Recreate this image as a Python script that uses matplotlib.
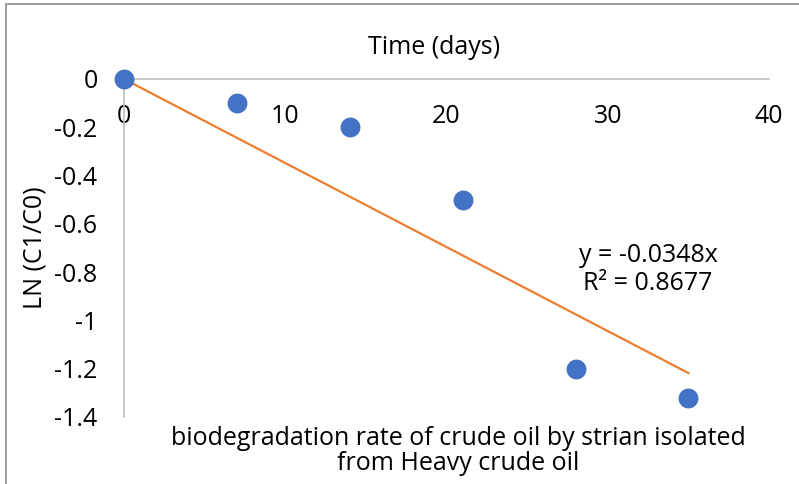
import numpy as np
import matplotlib
matplotlib.use("Agg")
import matplotlib.pyplot as plt
from matplotlib.patches import Rectangle

plt.rcParams["font.family"] = ["Open Sans", "DejaVu Sans"]

# sampling days and ln(C1/C0)
days = [0, 7, 14, 21, 28, 35]
ln_ratio = [0, -0.1, -0.2, -0.5, -1.2, -1.32]
slope = -0.0348
r2 = 0.8677

x_ticks = [0, 10, 20, 30, 40]
y_ticks = [0, -0.2, -0.4, -0.6, -0.8, -1, -1.2, -1.4]

FS = 18
W, H = 799, 484
fig = plt.figure(figsize=(W / 100, H / 100), dpi=100)
ax = fig.add_axes([124 / W, 1 - 417 / H, (769 - 124) / W, (417 - 79) / H])

# outer chart frame
fig.patches.append(Rectangle((6 / W, -0.1), 1.2, 0.1 + 1 - 4 / H, transform=fig.transFigure,
                             fill=False, edgecolor="#8c8c8c", linewidth=1.2))

ax.scatter(days, ln_ratio, s=205, color="#4472C4", zorder=3, clip_on=False, linewidths=0)
fit_x = np.array([days[0], days[-1]])
ax.plot(fit_x, slope * fit_x, color="#ED7D31", linewidth=1.6, zorder=2)

ax.set_xlim(0, 40)
ax.set_ylim(-1.4, 0)
ax.set_xticks(x_ticks)
ax.set_yticks(y_ticks)
ax.set_yticklabels([f"{v:g}" for v in y_ticks])

for s in ["top", "right"]:
    ax.spines[s].set_visible(False)
ax.spines["bottom"].set_position(("data", 0))
for s in ["bottom", "left"]:
    ax.spines[s].set_color("#bfbfbf")
    ax.spines[s].set_linewidth(1.2)
ax.tick_params(axis="x", length=0, pad=18, labelsize=FS, colors="#000000")
ax.tick_params(axis="y", length=0, pad=19, labelsize=FS)

fig.text(434 / W, 1 - 48 / H, "Time (days)", ha="center", va="center", fontsize=FS)
fig.text(35 / W, 1 - 248 / H, "LN (C1/C0)", ha="center", va="center", rotation=90, fontsize=FS)
ax.text(32.5, -0.79, f"y = {slope}x\nR² = {r2}", ha="center", va="center",
        fontsize=FS, linespacing=1.15)
fig.text(458 / W, 1 - 451 / H,
         "biodegradation rate of crude oil by strian isolated\nfrom Heavy crude oil",
         ha="center", va="center", fontsize=FS, linespacing=1.0)

fig.savefig("out.png", dpi=100)
